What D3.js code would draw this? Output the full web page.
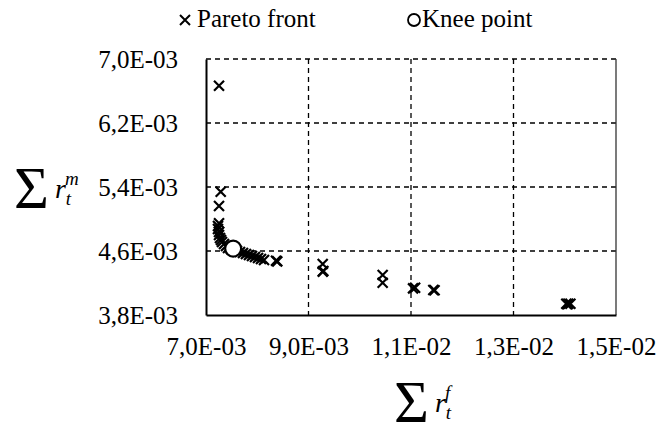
<!DOCTYPE html>
<html>
<head>
<meta charset="utf-8">
<script src="https://cdn.jsdelivr.net/npm/d3@7"></script>
<style>
  body { margin: 0; background: #fff; }
  text { fill: #000; }
</style>
</head>
<body>
<svg id="CHART" width="658" height="436"></svg>
<script>
// pareto front points (sum r_t^f, sum r_t^m)
var paretoX = [0.007254, 0.007287, 0.007254, 0.007254,
  0.007234, 0.007234, 0.007254, 0.007254, 0.007273, 0.007293, 0.007312, 0.007351,
  0.00739, 0.007429, 0.007488, 0.007605, 0.007663, 0.007722, 0.00778, 0.007839,
  0.007898, 0.007956, 0.008015, 0.008073, 0.008132, 0.008366, 0.00839,
  0.009277, 0.009277, 0.00929, 0.010447, 0.010447,
  0.01104, 0.01108, 0.011435, 0.01146,
  0.01403, 0.01407, 0.01411, 0.01405];
var paretoY = [0.006666, 0.005341, 0.005163, 0.004946,
  0.004913, 0.004875, 0.004838, 0.0048, 0.004763, 0.004738, 0.004713, 0.004688,
  0.004663, 0.004638, 0.004625, 0.0046, 0.004588, 0.004575, 0.004563, 0.00455,
  0.004538, 0.004525, 0.004513, 0.0045, 0.004488, 0.004479, 0.00447,
  0.004438, 0.004342, 0.00435, 0.0043, 0.004204,
  0.004133, 0.00414, 0.004113, 0.00411,
  0.00394, 0.00394, 0.00394, 0.003935];
var kneeX = [0.00753];
var kneeY = [0.00463];

var xTicks = [0.007, 0.009, 0.011, 0.013, 0.015];
var yTicks = [0.0038, 0.0046, 0.0054, 0.0062, 0.0070];

var MARGIN = { LEFT: 206, RIGHT: 42, TOP: 59, BOTTOM: 121 };
var width = 658, height = 436;
var FONT = "'Liberation Serif', 'Times New Roman', serif";

function fmt(v) {
  // 7.0e-3 -> 7,0E-03
  var s = v.toExponential(1).split("e");
  var e = parseInt(s[1], 10);
  var es = (e < 0 ? "-" : "+") + (Math.abs(e) < 10 ? "0" : "") + Math.abs(e);
  return s[0].replace(".", ",") + "E" + es;
}

var x = d3.scaleLinear()
  .domain([0.007, 0.015])
  .range([MARGIN.LEFT, width - MARGIN.RIGHT]);

var y = d3.scaleLinear()
  .domain([0.0038, 0.0070])
  .range([height - MARGIN.BOTTOM, MARGIN.TOP]);

var svg = d3.select("#CHART").style("font-family", FONT);

// grid
var grid = svg.append("g").attr("class", "grid");
grid.selectAll("line.vg")
  .data(xTicks.slice(1, -1))
  .enter().append("line")
  .attr("x1", function(d) { return x(d); })
  .attr("x2", function(d) { return x(d); })
  .attr("y1", y(0.0070))
  .attr("y2", y(0.0038))
  .attr("stroke", "#000")
  .attr("stroke-width", 1.3)
  .attr("stroke-dasharray", "5,4");
grid.selectAll("line.hg")
  .data(yTicks.slice(1))
  .enter().append("line")
  .attr("x1", x(0.007))
  .attr("x2", x(0.015))
  .attr("y1", function(d) { return y(d); })
  .attr("y2", function(d) { return y(d); })
  .attr("stroke", "#000")
  .attr("stroke-width", 1.3)
  .attr("stroke-dasharray", "5,4");

// right border
svg.append("line")
  .attr("x1", x(0.015)).attr("x2", x(0.015))
  .attr("y1", y(0.0070)).attr("y2", y(0.0038))
  .attr("stroke", "#333").attr("stroke-width", 1.3);

// axes
var xAxis = d3.axisBottom(x).tickValues(xTicks).tickFormat(fmt).tickSize(0).tickPadding(22);
var yAxis = d3.axisLeft(y).tickValues(yTicks).tickFormat(fmt).tickSize(0).tickPadding(28);

svg.append("g")
  .attr("class", "x axis")
  .attr("transform", "translate(0," + y(0.0038) + ")")
  .call(xAxis)
  .call(function(g) {
    g.attr("font-family", null).attr("font-size", null);
    g.select(".domain").attr("stroke", "#000").attr("stroke-width", 2);
    g.selectAll("text").style("font-family", FONT).attr("font-size", 25);
  });

svg.append("g")
  .attr("class", "y axis")
  .attr("transform", "translate(" + x(0.007) + ",0)")
  .call(yAxis)
  .call(function(g) {
    g.attr("font-family", null).attr("font-size", null);
    g.select(".domain").attr("stroke", "#000").attr("stroke-width", 2);
    g.selectAll("text").style("font-family", FONT).attr("font-size", 25);
  });

// pareto markers (crosses)
var pts = paretoX.map(function(v, i) { return [v, paretoY[i]]; });
var s = 5;
svg.append("g")
  .selectAll("path")
  .data(pts)
  .enter().append("path")
  .attr("d", function(d) {
    var cx = x(d[0]), cy = y(d[1]);
    return "M" + (cx - s) + "," + (cy - s) + "L" + (cx + s) + "," + (cy + s) +
      "M" + (cx - s) + "," + (cy + s) + "L" + (cx + s) + "," + (cy - s);
  })
  .attr("stroke", "#000")
  .attr("stroke-width", 2.2)
  .attr("fill", "none");

// knee point
svg.append("g")
  .selectAll("circle")
  .data(kneeX.map(function(v, i) { return [v, kneeY[i]]; }))
  .enter().append("circle")
  .attr("cx", function(d) { return x(d[0]); })
  .attr("cy", function(d) { return y(d[1]); })
  .attr("r", 8)
  .attr("fill", "#fff")
  .attr("stroke", "#000")
  .attr("stroke-width", 2.2);

// legend
var leg = svg.append("g").attr("class", "legend");
leg.append("path")
  .attr("d", "M180,15L190,25M180,25L190,15")
  .attr("stroke", "#000").attr("stroke-width", 2);
leg.append("text").attr("x", 197).attr("y", 27).attr("font-size", 25).text("Pareto front");
leg.append("circle")
  .attr("cx", 414).attr("cy", 20).attr("r", 6)
  .attr("fill", "#fff").attr("stroke", "#000").attr("stroke-width", 1.8);
leg.append("text").attr("x", 422).attr("y", 27).attr("font-size", 25).text("Knee point");

// axis titles
function sumTitle(tx, ty, sup) {
  var t = svg.append("text").attr("x", tx).attr("y", ty);
  t.append("tspan").attr("font-size", 60).text("\u03A3");
  t.append("tspan").attr("dx", 6).attr("dy", -10).attr("font-size", 28)
    .attr("font-style", "italic").text("r");
  t.append("tspan").attr("dy", 7).attr("font-size", 19)
    .attr("font-style", "italic").text("t");
  t.append("tspan").attr("dx", -6).attr("dy", -20).attr("font-size", 19)
    .attr("font-style", "italic").text(sup);
}
sumTitle(14, 208, "m");
sumTitle(394, 422, "f");
</script>
</body>
</html>
